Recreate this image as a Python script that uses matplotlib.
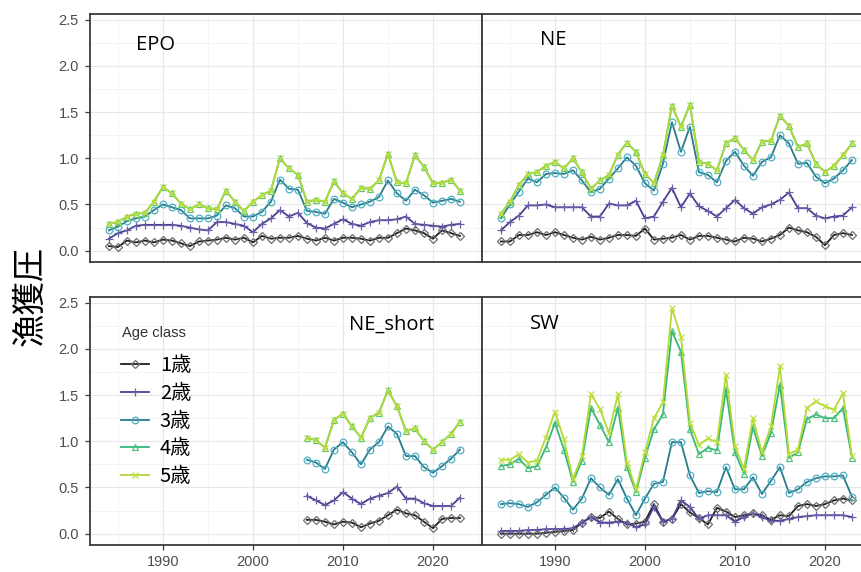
import matplotlib
matplotlib.use("Agg")
import matplotlib.pyplot as plt
from matplotlib.lines import Line2D
from matplotlib.ticker import MultipleLocator

# fishing pressure by age class for each stock area
years = list(range(1984, 2024))
years_short = list(range(2006, 2024))

epo_age1 = [0.05, 0.04, 0.11, 0.09, 0.11, 0.09, 0.12, 0.11, 0.08, 0.05,
            0.10, 0.11, 0.12, 0.14, 0.12, 0.14, 0.09, 0.16, 0.13, 0.14,
            0.14, 0.16, 0.13, 0.11, 0.14, 0.11, 0.14, 0.14, 0.13, 0.11,
            0.14, 0.14, 0.19, 0.24, 0.22, 0.19, 0.13, 0.22, 0.19, 0.16]
epo_age2 = [0.13, 0.19, 0.22, 0.27, 0.28, 0.28, 0.28, 0.28, 0.27, 0.25,
            0.23, 0.22, 0.31, 0.31, 0.29, 0.27, 0.20, 0.29, 0.35, 0.44,
            0.37, 0.41, 0.30, 0.25, 0.24, 0.29, 0.34, 0.29, 0.27, 0.31,
            0.33, 0.33, 0.34, 0.37, 0.29, 0.28, 0.27, 0.26, 0.28, 0.29]
epo_age3 = [0.22, 0.26, 0.32, 0.35, 0.37, 0.44, 0.50, 0.47, 0.44, 0.35,
            0.35, 0.35, 0.38, 0.49, 0.46, 0.37, 0.37, 0.42, 0.53, 0.77,
            0.67, 0.66, 0.43, 0.42, 0.40, 0.56, 0.52, 0.47, 0.50, 0.53,
            0.58, 0.76, 0.62, 0.54, 0.66, 0.60, 0.52, 0.54, 0.56, 0.53]
epo_age4 = [0.29, 0.31, 0.37, 0.40, 0.41, 0.53, 0.69, 0.62, 0.51, 0.45,
            0.50, 0.46, 0.45, 0.65, 0.53, 0.43, 0.53, 0.60, 0.65, 1.00,
            0.89, 0.82, 0.53, 0.55, 0.53, 0.75, 0.62, 0.56, 0.68, 0.67,
            0.76, 1.05, 0.74, 0.73, 1.03, 0.91, 0.73, 0.73, 0.77, 0.65]
epo_age5 = [0.29, 0.31, 0.37, 0.40, 0.41, 0.53, 0.69, 0.62, 0.51, 0.45,
            0.50, 0.46, 0.45, 0.65, 0.53, 0.43, 0.53, 0.60, 0.65, 1.00,
            0.89, 0.82, 0.53, 0.55, 0.53, 0.75, 0.62, 0.56, 0.68, 0.67,
            0.76, 1.05, 0.74, 0.73, 1.03, 0.91, 0.73, 0.73, 0.77, 0.65]

ne_age1 = [0.10, 0.10, 0.17, 0.17, 0.20, 0.17, 0.20, 0.17, 0.14, 0.12,
           0.15, 0.12, 0.14, 0.17, 0.17, 0.16, 0.24, 0.12, 0.13, 0.14,
           0.17, 0.12, 0.16, 0.16, 0.14, 0.12, 0.10, 0.14, 0.13, 0.10,
           0.13, 0.17, 0.25, 0.22, 0.20, 0.15, 0.06, 0.17, 0.19, 0.17]
ne_age2 = [0.22, 0.31, 0.38, 0.49, 0.49, 0.50, 0.47, 0.47, 0.47, 0.47,
           0.37, 0.37, 0.51, 0.49, 0.49, 0.54, 0.35, 0.37, 0.53, 0.68,
           0.47, 0.62, 0.48, 0.43, 0.37, 0.46, 0.55, 0.46, 0.40, 0.47,
           0.50, 0.55, 0.63, 0.46, 0.46, 0.38, 0.35, 0.37, 0.38, 0.47]
ne_age3 = [0.35, 0.50, 0.64, 0.78, 0.74, 0.83, 0.84, 0.83, 0.87, 0.76,
           0.63, 0.67, 0.78, 0.89, 1.01, 0.92, 0.73, 0.65, 0.94, 1.39,
           1.07, 1.34, 0.85, 0.82, 0.74, 0.97, 1.07, 0.92, 0.81, 0.96,
           1.01, 1.25, 1.16, 0.94, 0.95, 0.80, 0.73, 0.78, 0.87, 0.98]
ne_age4 = [0.40, 0.53, 0.71, 0.83, 0.85, 0.92, 0.96, 0.89, 1.00, 0.85,
           0.67, 0.76, 0.82, 1.04, 1.17, 1.07, 0.83, 0.73, 1.03, 1.57,
           1.34, 1.58, 0.96, 0.94, 0.87, 1.16, 1.22, 1.09, 0.98, 1.18,
           1.19, 1.46, 1.35, 1.12, 1.16, 0.94, 0.85, 0.92, 1.03, 1.16]
ne_age5 = [0.40, 0.53, 0.71, 0.83, 0.85, 0.92, 0.96, 0.89, 1.00, 0.85,
           0.67, 0.76, 0.82, 1.04, 1.17, 1.07, 0.83, 0.73, 1.03, 1.57,
           1.34, 1.58, 0.96, 0.94, 0.87, 1.16, 1.22, 1.09, 0.98, 1.18,
           1.19, 1.46, 1.35, 1.12, 1.16, 0.94, 0.85, 0.92, 1.03, 1.16]

nes_age1 = [0.15, 0.15, 0.13, 0.10, 0.13, 0.12, 0.07, 0.11, 0.14, 0.20,
            0.26, 0.22, 0.20, 0.13, 0.06, 0.16, 0.17, 0.17]
nes_age2 = [0.41, 0.36, 0.31, 0.36, 0.45, 0.38, 0.32, 0.38, 0.41, 0.44,
            0.51, 0.38, 0.38, 0.33, 0.30, 0.30, 0.30, 0.39]
nes_age3 = [0.80, 0.77, 0.70, 0.91, 0.99, 0.88, 0.75, 0.91, 0.99, 1.16,
            1.08, 0.84, 0.84, 0.72, 0.66, 0.73, 0.81, 0.91]
nes_age4 = [1.04, 1.01, 0.93, 1.23, 1.30, 1.16, 1.04, 1.25, 1.31, 1.55,
            1.38, 1.11, 1.14, 1.00, 0.91, 0.99, 1.08, 1.21]
nes_age5 = [1.04, 1.01, 0.93, 1.23, 1.30, 1.16, 1.04, 1.25, 1.31, 1.55,
            1.38, 1.11, 1.14, 1.00, 0.91, 0.99, 1.08, 1.21]

sw_age1 = [0.00, 0.00, 0.00, 0.00, 0.00, 0.01, 0.02, 0.03, 0.04, 0.12,
           0.18, 0.17, 0.24, 0.16, 0.10, 0.11, 0.13, 0.32, 0.13, 0.16,
           0.32, 0.23, 0.17, 0.10, 0.28, 0.24, 0.18, 0.20, 0.22, 0.20,
           0.15, 0.20, 0.19, 0.30, 0.32, 0.30, 0.32, 0.36, 0.38, 0.36]
sw_age2 = [0.03, 0.03, 0.03, 0.04, 0.04, 0.05, 0.05, 0.05, 0.06, 0.12,
           0.18, 0.12, 0.12, 0.13, 0.12, 0.07, 0.10, 0.29, 0.13, 0.16,
           0.36, 0.29, 0.16, 0.20, 0.20, 0.20, 0.13, 0.18, 0.22, 0.18,
           0.14, 0.14, 0.16, 0.18, 0.19, 0.20, 0.20, 0.20, 0.20, 0.18]
sw_age3 = [0.32, 0.33, 0.32, 0.29, 0.34, 0.42, 0.50, 0.39, 0.26, 0.38,
           0.60, 0.50, 0.42, 0.59, 0.38, 0.20, 0.38, 0.54, 0.56, 0.99,
           0.99, 0.63, 0.44, 0.46, 0.45, 0.72, 0.48, 0.48, 0.61, 0.43,
           0.57, 0.72, 0.44, 0.48, 0.56, 0.60, 0.62, 0.62, 0.63, 0.40]
sw_age4 = [0.73, 0.75, 0.81, 0.71, 0.73, 0.93, 1.20, 0.91, 0.56, 0.79,
           1.36, 1.18, 0.99, 1.36, 0.72, 0.45, 0.82, 1.13, 1.29, 2.19,
           1.97, 1.13, 0.86, 0.93, 0.90, 1.56, 0.88, 0.65, 1.15, 0.84,
           1.09, 1.61, 0.82, 0.88, 1.24, 1.29, 1.25, 1.25, 1.36, 0.82]
sw_age5 = [0.80, 0.80, 0.86, 0.77, 0.79, 1.04, 1.32, 1.02, 0.59, 0.84,
           1.51, 1.35, 1.09, 1.51, 0.77, 0.48, 0.88, 1.25, 1.42, 2.44,
           2.13, 1.20, 0.96, 1.03, 0.99, 1.72, 0.95, 0.70, 1.25, 0.88,
           1.16, 1.81, 0.86, 0.91, 1.36, 1.43, 1.38, 1.34, 1.52, 0.84]

age_labels = ["1歳", "2歳", "3歳", "4歳", "5歳"]
line_colors = ["#1e1e1e", "#4a4190", "#2a7b8c", "#35b779", "#b2d936"]
edge_colors = ["#6e6e6e", "#6a60aa", "#4fb0c4", "#52c27e", "#bfe040"]
markers = ["D", "+", "o", "^", "x"]
marker_sizes = [4.2, 6.0, 4.8, 5.0, 4.8]

plt.rcParams["font.family"] = ["Liberation Sans", "Noto Sans CJK JP"]

fig = plt.figure(figsize=(8.62, 5.72), dpi=100)
W, H = 862.0, 572.0


def panel_axes(left, top, right, bottom):
    return fig.add_axes([left / W, 1 - bottom / H, (right - left) / W, (bottom - top) / H])


ax_epo = panel_axes(90, 14, 482, 262)
ax_ne = panel_axes(482, 14, 874, 262)
ax_nes = panel_axes(90, 297, 482, 545)
ax_sw = panel_axes(482, 297, 874, 545)

panels = [
    (ax_epo, "EPO", years, [epo_age1, epo_age2, epo_age3, epo_age4, epo_age5], (0.118, 0.875)),
    (ax_ne, "NE", years, [ne_age1, ne_age2, ne_age3, ne_age4, ne_age5], (0.148, 0.895)),
    (ax_nes, "NE_short", years_short, [nes_age1, nes_age2, nes_age3, nes_age4, nes_age5], (0.66, 0.89)),
    (ax_sw, "SW", years, [sw_age1, sw_age2, sw_age3, sw_age4, sw_age5], (0.123, 0.89)),
]

for ax, name, xs, series, (tx, ty) in panels:
    for i, ys in enumerate(series):
        ax.plot(xs, ys, color=line_colors[i], lw=1.3, zorder=3 + i,
                marker=markers[i], markersize=marker_sizes[i],
                markerfacecolor="none", markeredgecolor=edge_colors[i],
                markeredgewidth=0.9)
    ax.set_xlim(1981.9, 2025.45)
    ax.set_ylim(-0.122, 2.56)
    ax.xaxis.set_major_locator(MultipleLocator(10))
    ax.xaxis.set_minor_locator(MultipleLocator(5))
    ax.yaxis.set_major_locator(MultipleLocator(0.5))
    ax.yaxis.set_minor_locator(MultipleLocator(0.25))
    ax.grid(which="major", color="#e8e8e8", lw=0.9)
    ax.grid(which="minor", color="#f3f3f3", lw=0.6)
    ax.set_axisbelow(True)
    for sp in ax.spines.values():
        sp.set_color("#3a3a3a")
        sp.set_linewidth(1.3)
    ax.tick_params(which="minor", length=0)
    ax.tick_params(which="major", color="#3a3a3a", length=3.5, width=0.9,
                   labelcolor="#4d4d4d", labelsize=10.5)
    ax.tick_params(axis="y", pad=4.5)
    ax.text(tx, ty, name, transform=ax.transAxes, fontsize=14.5,
            family=["Open Sans", "DejaVu Sans"], color="black", va="center")

# only the outer panels carry tick labels
for ax in (ax_epo, ax_ne):
    ax.tick_params(axis="x", length=0, labelbottom=False)
for ax in (ax_ne, ax_sw):
    ax.tick_params(axis="y", length=0, labelleft=False)
for ax in (ax_epo, ax_nes):
    ax.yaxis.set_major_formatter(plt.FormatStrFormatter("%.1f"))

fig.text(30 / W, 1 - 296 / H, "漁獲圧", rotation=90, fontsize=24,
         family=["Noto Sans CJK JP"], ha="center", va="center")

# legend title placed on its own so the gap to the keys can be set freely
ax_nes.text(0.082, 0.855, "Age class", transform=ax_nes.transAxes,
            fontsize=10.5, color="#333333", va="center", ha="left")
handles = [Line2D([], [], color=line_colors[i], lw=1.3, marker=markers[i],
                  markersize=marker_sizes[i], markerfacecolor="none",
                  markeredgecolor=edge_colors[i], markeredgewidth=0.9)
           for i in range(5)]
ax_nes.legend(handles, age_labels, loc="upper left",
              bbox_to_anchor=(0.078, 0.765), frameon=False,
              borderpad=0, borderaxespad=0, handlelength=1.4,
              handletextpad=0.55, labelspacing=0.33,
              prop={"family": ["Noto Sans CJK JP"], "size": 14.5})

fig.savefig("out.png", dpi=100)
